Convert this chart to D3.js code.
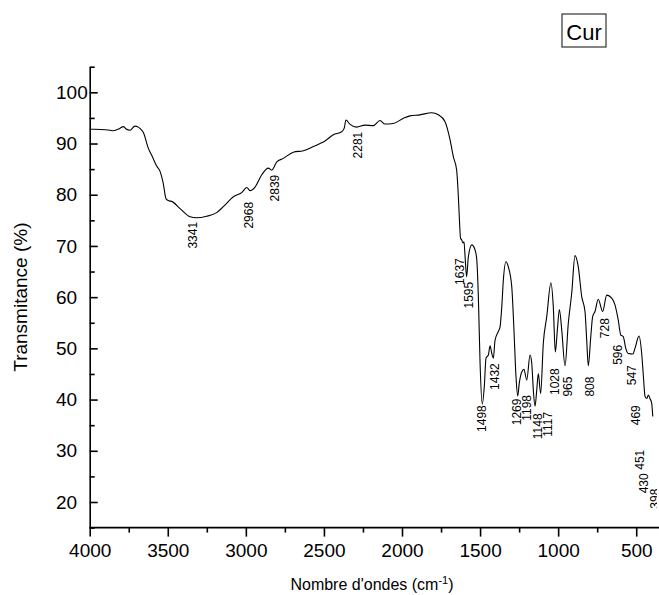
<!DOCTYPE html>
<html><head><meta charset="utf-8">
<script src="https://cdn.jsdelivr.net/npm/d3@7"></script>
<style>body{margin:0;background:#fff}svg{display:block;font-family:"Liberation Sans",Arial,sans-serif}</style>
</head><body>
<svg id="c" width="659" height="595"></svg>
<script>
// Spectrum data (wavenumber cm-1, transmittance %)
const wavenumber = [4000,3966,3900,3870,3849,3810,3785,3769,3742,3710,3689,3667,3657,3625,3600,3571,3550,3529,3511,3490,3475,3421,3357,3315,3251,3187,3133,3080,3027,2994,2973,2941,2898,2856,2834,2802,2760,2696,2632,2568,2525,2493,2440,2386,2370,2359,2334,2290,2237,2184,2141,2109,2056,1992,1949,1885,1810,1767,1725,1692,1671,1650,1639,1632,1625,1618,1610,1603,1596,1586,1575,1553,1532,1521,1511,1500,1486,1473,1462,1447,1436,1425,1415,1404,1383,1372,1361,1351,1334,1319,1297,1283,1270,1259,1249,1233,1219,1201,1180,1169,1159,1148,1137,1127,1112,1095,1073,1046,1031,1018,1005,992,977,956,935,913,892,871,849,828,817,807,791,779,764,743,715,689,657,636,615,599,583,567,551,522,508,482,465,454,444,433,422,412,401,394];
const transmittance = [92.8,92.8,92.7,92.6,92.5,92.9,93.3,92.9,92.6,93.4,93.2,92.6,92.2,89.1,87.5,85.6,84.6,82.2,79.2,78.8,78.7,77.3,75.7,75.5,75.8,76.5,78.0,79.6,80.4,81.4,80.8,81.5,83.9,85.2,84.8,86.4,87.1,88.3,88.6,89.4,90.0,90.5,91.7,92.3,93.0,94.6,93.8,93.2,93.6,93.5,94.5,93.8,93.9,94.9,95.4,95.6,96.0,95.6,94.3,90.7,87.4,84.8,79.6,75.0,71.5,71.2,70.6,70.8,67.9,64.0,67.9,70.2,69.2,67.3,60.1,47.1,39.1,42.5,48.1,48.7,50.5,49.0,48.1,51.6,53.3,54.2,58.1,63.3,66.9,65.9,62.0,53.6,44.5,40.7,43.2,45.4,45.9,43.8,48.7,47.1,41.9,38.7,41.9,45.1,41.2,51.0,56.2,62.8,58.1,49.3,53.6,57.6,53.6,46.6,54.9,60.8,68.1,65.9,60.1,57.2,51.6,46.6,52.3,56.2,57.2,59.6,57.2,60.4,59.8,58.5,55.5,52.6,52.3,50.0,49.0,48.9,50.0,52.4,49.0,44.5,40.7,40.2,40.9,40.2,39.3,36.7];

// Peak annotations: text, and where the label sits (wavenumber, transmittance at label top)
const peakText = ["3341","2968","2839","2281","1637","1595","1498","1432","1269","1198","1148","1117","1028","965","808","728","596","547","469","451","430","398"];
const peakAtX  = [3337,2978,2813,2280,1633,1575,1489,1404,1265,1201,1131,1069,1020,935,796,700,615,529,501,480,454,382];
const peakAtY  = [74.7,78.6,83.9,92.3,67.6,63.0,38.9,47.1,40.2,40.9,37.3,37.6,46.1,44.5,44.5,55.9,50.7,46.7,38.9,30.2,25.6,22.6];

const xMajor = [4000,3500,3000,2500,2000,1500,1000,500];
const xMinor = [3750,3250,2750,2250,1750,1250,750];
const yMajor = [20,30,40,50,60,70,80,90,100];
const yMinor = [15,25,35,45,55,65,75,85,95,105];
const legendLabel = "Cur";

const svg = d3.select("#c");
const x = d3.scaleLinear().domain([4000, 365]).range([89.7, 657.3]);
const y = d3.scaleLinear().domain([15, 105]).range([527.6, 66.7]);

svg.append("defs").append("clipPath").attr("id","clip")
  .append("rect").attr("x",89).attr("y",0).attr("width",568).attr("height",595);

// Axes
const xAxis = svg.append("g").attr("transform",`translate(0,${y(15)})`)
  .call(d3.axisBottom(x).tickValues(xMajor).tickSizeInner(9).tickSizeOuter(0).tickPadding(7).tickFormat(d3.format("d")));
xAxis.select(".domain").attr("d", `M${x(4000)},0H659`);
xAxis.selectAll("text").attr("font-size",19).attr("font-family","Liberation Sans, Arial, sans-serif").attr("fill","#000");
svg.append("g").attr("transform",`translate(0,${y(15)})`)
  .call(d3.axisBottom(x).tickValues(xMinor).tickSizeInner(5).tickSizeOuter(0).tickFormat(""))
  .select(".domain").remove();

const yAxis = svg.append("g").attr("transform",`translate(${x(4000)},0)`)
  .call(d3.axisLeft(y).tickValues(yMajor).tickSizeInner(-8).tickSizeOuter(0).tickPadding(0).tickFormat(d3.format("d")));
yAxis.selectAll("text").attr("x", 56 - x(4000)).attr("text-anchor","start")
  .attr("font-size",19).attr("font-family","Liberation Sans, Arial, sans-serif").attr("fill","#000");
svg.append("g").attr("transform",`translate(${x(4000)},0)`)
  .call(d3.axisLeft(y).tickValues(yMinor).tickSizeInner(-5).tickSizeOuter(0).tickFormat(""))
  .select(".domain").remove();

svg.selectAll(".domain").attr("stroke","#000").attr("stroke-width",1.6);
svg.selectAll(".tick line").attr("stroke","#000").attr("stroke-width",1.6);

// Spectrum
const pts = wavenumber.map((w,i)=>[w, transmittance[i]]);
svg.append("path").datum(pts)
  .attr("fill","none").attr("stroke","#000").attr("stroke-width",1.1)
  .attr("d", d3.line().x(d=>x(d[0])).y(d=>y(d[1])).curve(d3.curveMonotoneX));

// Peak labels
svg.append("g").attr("clip-path","url(#clip)")
  .selectAll("text").data(peakText).join("text")
  .attr("transform",(d,i)=>`translate(${x(peakAtX[i])},${y(peakAtY[i])}) rotate(-90)`)
  .attr("text-anchor","end").attr("dy","0.35em")
  .attr("font-size",12).attr("fill","#000")
  .text(d=>d);

// Axis titles
svg.append("text").attr("transform",`translate(27,${(y(15)+y(105))/2}) rotate(-90)`)
  .attr("text-anchor","middle").attr("font-size",19).text("Transmitance (%)");
const xt = svg.append("text").attr("x",372).attr("y",590).attr("text-anchor","middle").attr("font-size",16);
xt.append("tspan").text("Nombre d'ondes (cm");
xt.append("tspan").attr("font-size",11).attr("dy",-6).text("-1");
xt.append("tspan").attr("dy",6).text(")");

// Legend
svg.append("rect").attr("x",562).attr("y",14).attr("width",44).attr("height",33)
  .attr("fill","none").attr("stroke","#333").attr("stroke-width",1.2);
svg.append("text").attr("x",584).attr("y",39.5).attr("text-anchor","middle").attr("font-size",22).text(legendLabel);
</script>
</body></html>
